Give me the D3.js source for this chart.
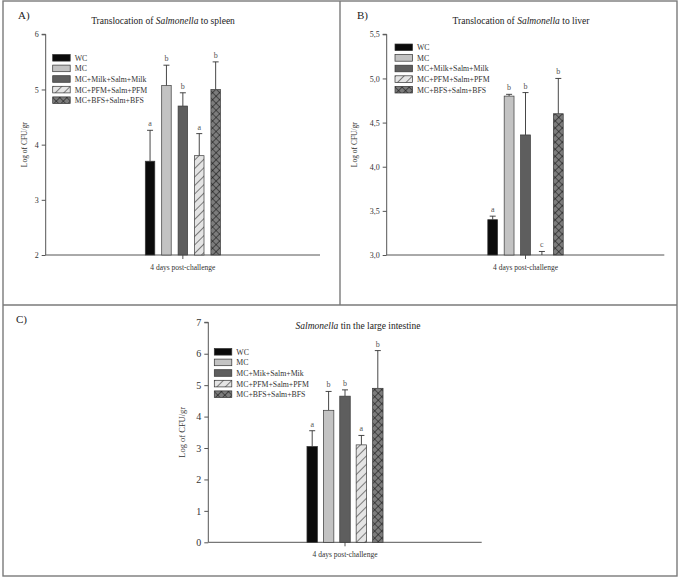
<!DOCTYPE html>
<html>
<head>
<meta charset="utf-8">
<script src="https://cdn.jsdelivr.net/npm/d3@7"></script>
<style>
  body { margin: 0; background: #fff; }
  svg text { font-family: 'Liberation Serif', 'Times New Roman', Times, serif; }
  .axis path, .axis line { stroke: #555; }
  .axis text { fill: #333; }
</style>
</head>
<body>
<script>
// groups, same in all three panels
var series = ["WC", "MC", "MC+Milk+Salm+Milk", "MC+PFM+Salm+PFM", "MC+BFS+Salm+BFS"];
var seriesC = ["WC", "MC", "MC+Mik+Salm+Mik", "MC+PFM+Salm+PFM", "MC+BFS+Salm+BFS"];
var category = ["4 days post-challenge"];

// A) spleen
var spleenMean = [3.7, 5.07, 4.7, 3.8, 5.0];
var spleenErr  = [0.56, 0.37, 0.24, 0.4, 0.5];
var spleenSig  = ["a", "b", "b", "a", "b"];
var spleenTicks = [2, 3, 4, 5, 6];

// B) liver
var liverMean = [3.4, 4.8, 4.36, 3.0, 4.6];
var liverErr  = [0.04, 0.02, 0.48, 0.04, 0.4];
var liverSig  = ["a", "b", "b", "c", "b"];
var liverTicks = [3.0, 3.5, 4.0, 4.5, 5.0, 5.5];

// C) large intestine
var intestMean = [3.05, 4.2, 4.65, 3.1, 4.9];
var intestErr  = [0.5, 0.6, 0.2, 0.3, 1.2];
var intestSig  = ["a", "b", "b", "a", "b"];
var intestTicks = [0, 1, 2, 3, 4, 5, 6, 7];

var width = 685, height = 578;
var serif = "'Liberation Serif', 'Times New Roman', Times, serif";
var svg = d3.select("body").append("svg")
    .attr("width", width).attr("height", height)
    .attr("font-family", serif);

var defs = svg.append("defs");
// diagonal hatch for PFM
var p1 = defs.append("pattern").attr("id", "hatch")
    .attr("patternUnits", "userSpaceOnUse").attr("width", 6).attr("height", 6)
    .attr("patternTransform", "rotate(45)");
p1.append("rect").attr("width", 6).attr("height", 6).attr("fill", "#e4e4e4");
p1.append("line").attr("x1", 0).attr("y1", 0).attr("x2", 0).attr("y2", 6)
    .attr("stroke", "#222").attr("stroke-width", 1.1);
// cross hatch for BFS
var p2 = defs.append("pattern").attr("id", "cross")
    .attr("patternUnits", "userSpaceOnUse").attr("width", 5).attr("height", 5)
    .attr("patternTransform", "rotate(45)");
p2.append("rect").attr("width", 5).attr("height", 5).attr("fill", "#7c7c7c");
p2.append("path").attr("d", "M0,0V5M0,0H5").attr("stroke", "#111").attr("stroke-width", 1.1);

var fills = ["#0b0b0b", "#c3c3c3", "#5e5e5e", "url(#hatch)", "url(#cross)"];

// frame lines round the panels
var frame = svg.append("g").attr("fill", "none").attr("stroke", "#7a7a7a").attr("stroke-width", 1.4);
frame.append("rect").attr("x", 3).attr("y", 1).attr("width", 674).attr("height", 575);
frame.append("line").attr("x1", 340).attr("x2", 340).attr("y1", 1).attr("y2", 305);
frame.append("line").attr("x1", 3).attr("x2", 677).attr("y1", 305).attr("y2", 305);

function drawPanel(cfg) {
    var g = svg.append("g");
    var W = cfg.x1 - cfg.x0;

    var y = d3.scaleLinear().domain(cfg.domain).range([cfg.y1, cfg.y0]);
    var groupW = 82;
    var x0 = d3.scaleBand().domain(category).range([cfg.x0, cfg.x1])
        .paddingInner(0).paddingOuter((W / groupW - 1) / 2);
    var x1 = d3.scaleBand().domain(cfg.names).range([0, x0.bandwidth()])
        .paddingInner(cfg.pad).paddingOuter(cfg.pad / 2);

    var yAxis = d3.axisLeft(y).tickValues(cfg.ticks).tickSize(4).tickPadding(3)
        .tickFormat(cfg.fmt);
    g.append("g").attr("class", "axis").attr("transform", "translate(" + cfg.x0 + ",0)")
        .call(yAxis)
        .attr("font-family", serif)
        .call(function(a) { a.selectAll("text").attr("font-size", cfg.tickFont); })
        .call(function(a) { a.select(".domain").attr("d", "M-4," + cfg.y0 + "H0V" + cfg.y1); });

    var xAxis = d3.axisBottom(x0).tickSize(4).tickFormat("");
    g.append("g").attr("class", "axis").attr("transform", "translate(0," + cfg.y1 + ")")
        .call(xAxis)
        .call(function(a) { a.select(".domain").attr("d", "M" + cfg.x0 + ",0H" + cfg.x1); });

    var rows = cfg.names.map(function(n, i) {
        return {name: n, v: cfg.mean[i], e: cfg.err[i], s: cfg.sig[i], fill: fills[i]};
    });
    var bars = g.append("g").attr("transform", "translate(" + x0(category[0]) + ",0)");
    var bw = x1.bandwidth();

    // error bars (upper only)
    bars.selectAll(".err").data(rows).enter().append("path")
        .attr("d", function(d) {
            var cx = x1(d.name) + bw / 2, top = y(d.v + d.e);
            return "M" + cx + "," + y(d.v) + "V" + top + "M" + (cx - 3) + "," + top + "H" + (cx + 3);
        })
        .attr("stroke", "#333").attr("stroke-width", 0.9).attr("fill", "none");

    bars.selectAll("rect").data(rows).enter().append("rect")
        .attr("x", function(d) { return x1(d.name); })
        .attr("y", function(d) { return y(d.v); })
        .attr("width", bw)
        .attr("height", function(d) { return Math.max(0, y(cfg.domain[0]) - y(d.v)); })
        .attr("fill", function(d) { return d.fill; })
        .attr("stroke", "#3a3a3a").attr("stroke-width", 0.7);

    bars.selectAll(".sig").data(rows).enter().append("text")
        .attr("x", function(d) { return x1(d.name) + bw / 2; })
        .attr("y", function(d) { return y(d.v + d.e) - 4; })
        .attr("text-anchor", "middle").attr("font-size", 8).attr("fill", "#555")
        .text(function(d) { return d.s; });

    // titles and labels
    g.append("text").attr("x", cfg.px).attr("y", cfg.py)
        .attr("font-size", 11).attr("fill", "#222").text(cfg.panel);

    var t = g.append("text").attr("x", cfg.tx).attr("y", cfg.ty)
        .attr("text-anchor", "middle").attr("font-size", 9.5).attr("fill", "#222");
    cfg.title.forEach(function(p) {
        t.append("tspan").attr("font-style", p.i ? "italic" : "normal").text(p.s);
    });

    g.append("text")
        .attr("transform", "translate(" + cfg.ylx + "," + ((cfg.y0 + cfg.y1) / 2) + ") rotate(-90)")
        .attr("text-anchor", "middle").attr("font-size", cfg.ylFont).attr("fill", "#333")
        .text("Log of CFU/gr");

    g.append("text").attr("x", x0(category[0]) + x0.bandwidth() / 2).attr("y", cfg.y1 + 15)
        .attr("text-anchor", "middle").attr("font-size", 7.5).attr("fill", "#333")
        .text(category[0]);

    // legend
    var lg = g.append("g").attr("transform", "translate(" + cfg.lx + "," + cfg.ly + ")");
    var item = lg.selectAll("g").data(rows).enter().append("g")
        .attr("transform", function(d, i) { return "translate(0," + (i * 10.6) + ")"; });
    item.append("rect").attr("width", 17.5).attr("height", 6.6)
        .attr("fill", function(d) { return d.fill; })
        .attr("stroke", "#333").attr("stroke-width", 0.7);
    item.append("text").attr("x", 22).attr("y", 6.2).attr("font-size", 7.8).attr("fill", "#333")
        .text(function(d) { return d.name; });
}

drawPanel({
    x0: 45.7, x1: 320, y0: 34.3, y1: 255, domain: [2, 6], ticks: spleenTicks,
    fmt: d3.format("d"), tickFont: 8, pad: 0.42,
    names: series, mean: spleenMean, err: spleenErr, sig: spleenSig,
    panel: "A)", px: 18, py: 19,
    title: [{s: "Translocation of "}, {s: "Salmonella", i: true}, {s: " to spleen"}], tx: 163, ty: 24,
    ylx: 27, ylFont: 7.5, lx: 52.7, ly: 54.5
});

drawPanel({
    x0: 386.7, x1: 664.3, y0: 34.3, y1: 255, domain: [3, 5.5], ticks: liverTicks,
    fmt: function(d) { return d3.format(".1f")(d).replace(".", ","); }, tickFont: 8, pad: 0.4,
    names: series, mean: liverMean, err: liverErr, sig: liverSig,
    panel: "B)", px: 357, py: 19,
    title: [{s: "Translocation of "}, {s: "Salmonella", i: true}, {s: " to liver"}], tx: 521, ty: 24,
    ylx: 357, ylFont: 7.5, lx: 395, ly: 44
});

drawPanel({
    x0: 208.3, x1: 481.7, y0: 322.3, y1: 542.3, domain: [0, 7], ticks: intestTicks,
    fmt: d3.format("d"), tickFont: 10, pad: 0.36,
    names: seriesC, mean: intestMean, err: intestErr, sig: intestSig,
    panel: "C)", px: 16, py: 323,
    title: [{s: "Salmonella", i: true}, {s: " tin the large intestine"}], tx: 358, ty: 329,
    ylx: 185, ylFont: 8.5, lx: 214.3, ly: 348.5
});
</script>
</body>
</html>
